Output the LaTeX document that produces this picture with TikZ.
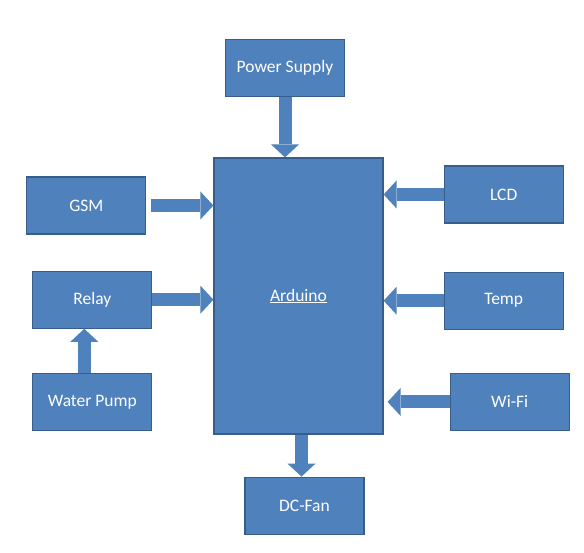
\documentclass[tikz,border=0pt]{standalone}
\usepackage{fontspec}
\setmainfont{Carlito}
\usetikzlibrary{positioning, arrows.meta}
\definecolor{boxblue}{HTML}{4F81BD}
\definecolor{boxedge}{HTML}{385D8A}
\tikzstyle{block} = [rectangle, minimum width=119pt, minimum height=57pt,
text centered, draw=boxedge, line width=1.2pt, fill=boxblue, text=white,
font=\fontsize{17.5}{20}\selectfont, inner sep=0pt]
\tikzstyle{fat} = [line width=13pt, draw=boxblue,
-{Triangle[length=13pt, width=28pt, line width=0pt]}]

\begin{document}
\begin{tikzpicture}
    \useasboundingbox (0,0) rectangle (584pt,-553pt);
    \node (Ard) [block, minimum width=169pt, minimum height=276pt] at
    (298.5pt,-296pt) {\underline{Arduino}}; \node (Pwr) [block, above=60pt of
      Ard, xshift=-13.5pt] {Power Supply}; \node (GSM) [block, below
      left=19pt and 67pt of Ard.north west] {GSM}; \node (Rly) [block,
      below=36pt of GSM, xshift=6pt] {Relay}; \node (Pump) [block,
      below=44pt of Rly] {Water Pump}; \node (LCD) [block, below right=8pt
      and 60pt of Ard.north east] {LCD}; \node (Tmp) [block, below=48pt of
      LCD] {Temp}; \node (Wifi) [block, below=43pt of Tmp, xshift=6pt]
    {Wi-Fi}; \node (Fan) [block, below=42pt of Ard, xshift=6pt] {DC-Fan};

    \draw [fat] (Pwr) -- (Pwr |- Ard.north); \draw [fat] ([xshift=5pt]GSM.east)
    -- (GSM -| Ard.west); \draw [fat] (Rly) -- (Rly -| Ard.west);
    \draw [fat] (LCD) -- (LCD -| Ard.east); \draw [fat] (Tmp) -- (Tmp -|
    Ard.east); \draw [fat] (Wifi) -- ([xshift=4pt]Wifi -| Ard.east);
    \draw [fat] ([xshift=-8pt]Pump.north) -- ([xshift=-8pt]Rly.south); % pump feeds the relay
    \draw [fat] ([xshift=3pt]Ard.south) -- ([xshift=-3pt]Fan.north);

  \end{tikzpicture}
\end{document}
